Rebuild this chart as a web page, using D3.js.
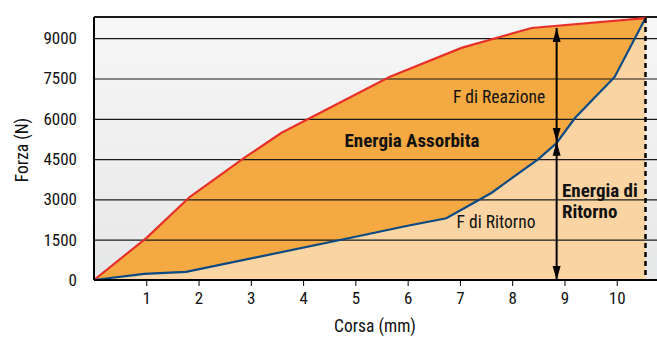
<!DOCTYPE html>
<html>
<head>
<meta charset="utf-8">
<script src="https://cdn.jsdelivr.net/npm/d3@7"></script>
<style>
  body { margin: 0; background: #fff; }
  svg text { font-family: "Liberation Sans Narrow", "Roboto Condensed", "Liberation Sans", sans-serif; fill: #111; }
</style>
</head>
<body>
<div id="chart"></div>
<script>
// reaction force curve (red) and return force curve (blue), x in mm, y in N
var reazioneX = [0, 1.0, 1.83, 2.9, 3.58, 5.65, 7.03, 8.37, 10.55];
var reazioneY = [0, 1560, 3090, 4580, 5470, 7560, 8640, 9380, 9750];
var ritornoX = [0, 0.96, 1.76, 4.73, 6.0, 6.74, 7.6, 8.5, 8.85, 9.2, 9.96, 10.55];
var ritornoY = [0, 225, 300, 1500, 2020, 2300, 3240, 4500, 5100, 6030, 7560, 9750];
var xTicks = [1, 2, 3, 4, 5, 6, 7, 8, 9, 10];
var yTicks = [0, 1500, 3000, 4500, 6000, 7500, 9000];
var corsaMax = 10.55;     // dashed end-of-stroke line
var frecciaX = 8.85;      // arrows position
var frecciaY = [0, 5150, 9380];

function drawChart() {
  var width = 657, height = 337;
  var mLeft = 94, mRight = 657, mTop = 17, mBottom = 280;

  var svg = d3.select("#chart").append("svg")
    .attr("width", width)
    .attr("height", height);

  var x = d3.scaleLinear().domain([0, 10.77]).range([mLeft, mRight]);
  var y = d3.scaleLinear().domain([0, 9790]).range([mBottom, mTop]);

  // 1. background gradient
  var defs = svg.append("defs");
  var grad = defs.append("linearGradient").attr("id", "bg").attr("x1", 0).attr("y1", 0).attr("x2", 0).attr("y2", 1);
  grad.append("stop").attr("offset", "0%").attr("stop-color", "#f7f7f7");
  grad.append("stop").attr("offset", "100%").attr("stop-color", "#e6e7e8");

  svg.append("rect")
    .attr("x", mLeft).attr("y", mTop)
    .attr("width", mRight - mLeft).attr("height", mBottom - mTop)
    .attr("fill", "url(#bg)");

  // arrowheads
  defs.append("marker").attr("id", "arrow")
    .attr("viewBox", "0 0 14 10").attr("refX", 14).attr("refY", 5)
    .attr("markerWidth", 7).attr("markerHeight", 5)
    .attr("markerUnits", "strokeWidth")
    .attr("orient", "auto-start-reverse")
    .append("path").attr("d", "M0,1 L14,5 L0,9 Z").attr("fill", "#000");

  // 2. areas
  var reaz = reazioneX.map(function (d, i) { return [d, reazioneY[i]]; });
  var rit = ritornoX.map(function (d, i) { return [d, ritornoY[i]]; });

  var line = d3.line().x(function (d) { return x(d[0]); }).y(function (d) { return y(d[1]); });

  // area under return curve
  svg.append("path")
    .attr("d", line(rit.concat([[corsaMax, 0], [0, 0]])))
    .attr("fill", "#fbd4a3");

  // area between curves
  svg.append("path")
    .attr("d", line(reaz.concat(rit.slice().reverse())))
    .attr("fill", "#f4a942");

  // 3. grid lines
  svg.append("g").selectAll("line").data(yTicks.filter(function (d) { return d > 0; }))
    .enter().append("line")
    .attr("x1", mLeft).attr("x2", mRight)
    .attr("y1", function (d) { return y(d) + 0.5; })
    .attr("y2", function (d) { return y(d) + 0.5; })
    .attr("stroke", "#1a1a1a").attr("stroke-width", 1.2);

  svg.append("line")
    .attr("x1", mLeft).attr("x2", mRight)
    .attr("y1", mTop).attr("y2", mTop)
    .attr("stroke", "#1a1a1a").attr("stroke-width", 2);

  // 4. curves
  svg.append("path").attr("d", line(rit))
    .attr("fill", "none").attr("stroke", "#0a4a84").attr("stroke-width", 2.2);
  svg.append("path").attr("d", line(reaz))
    .attr("fill", "none").attr("stroke", "#e8302a").attr("stroke-width", 2.2);

  // dashed end line
  svg.append("line")
    .attr("x1", x(corsaMax)).attr("x2", x(corsaMax))
    .attr("y1", y(reazioneY[reazioneY.length - 1])).attr("y2", mBottom)
    .attr("stroke", "#000").attr("stroke-width", 2.5)
    .attr("stroke-dasharray", "5,4");

  // 5. arrows
  svg.append("line")
    .attr("x1", x(frecciaX)).attr("x2", x(frecciaX))
    .attr("y1", y(frecciaY[2])).attr("y2", y(frecciaY[1]))
    .attr("stroke", "#000").attr("stroke-width", 2)
    .attr("marker-start", "url(#arrow)").attr("marker-end", "url(#arrow)");
  svg.append("line")
    .attr("x1", x(frecciaX)).attr("x2", x(frecciaX))
    .attr("y1", y(frecciaY[1])).attr("y2", y(frecciaY[0]))
    .attr("stroke", "#000").attr("stroke-width", 2)
    .attr("marker-start", "url(#arrow)").attr("marker-end", "url(#arrow)");

  // 6. axes
  var xAxis = d3.axisBottom(x).tickValues(xTicks).tickSize(6).tickPadding(6);
  svg.append("g")
    .attr("transform", "translate(0," + mBottom + ")")
    .call(xAxis)
    .call(function (g) {
      g.select(".domain").attr("d", "M" + mLeft + ",0H" + mRight).attr("stroke", "#000").attr("stroke-width", 2);
      g.selectAll("text").attr("font-size", 17);
    });

  var yAxis = d3.axisLeft(y).tickValues(yTicks).tickFormat(d3.format("d")).tickSize(0).tickPadding(17);
  svg.append("g")
    .attr("transform", "translate(" + mLeft + ",0)")
    .call(yAxis)
    .call(function (g) {
      g.select(".domain").attr("d", "M0," + mTop + "V" + mBottom).attr("stroke", "#000").attr("stroke-width", 2);
      g.selectAll("text").attr("font-size", 17);
    });

  // 7. labels
  svg.append("text")
    .attr("text-anchor", "middle")
    .attr("transform", "translate(375,332)")
    .attr("font-size", 17.5)
    .text("Corsa (mm)");
  svg.append("text")
    .attr("text-anchor", "middle")
    .attr("transform", "translate(28,150)rotate(-90)")
    .attr("font-size", 17.5)
    .text("Forza (N)");

  svg.append("text").attr("x", 499).attr("y", 103).attr("text-anchor", "middle")
    .attr("font-size", 17.5).text("F di Reazione");
  svg.append("text").attr("x", 412).attr("y", 147).attr("text-anchor", "middle")
    .attr("font-size", 19).attr("font-weight", "bold").text("Energia Assorbita");
  svg.append("text").attr("x", 496).attr("y", 228).attr("text-anchor", "middle")
    .attr("font-size", 17.5).text("F di Ritorno");
  svg.append("text").attr("x", 562).attr("y", 197)
    .attr("font-size", 19).attr("font-weight", "bold").text("Energia di");
  svg.append("text").attr("x", 562).attr("y", 218)
    .attr("font-size", 19).attr("font-weight", "bold").text("Ritorno");
}

drawChart();
</script>
</body>
</html>
